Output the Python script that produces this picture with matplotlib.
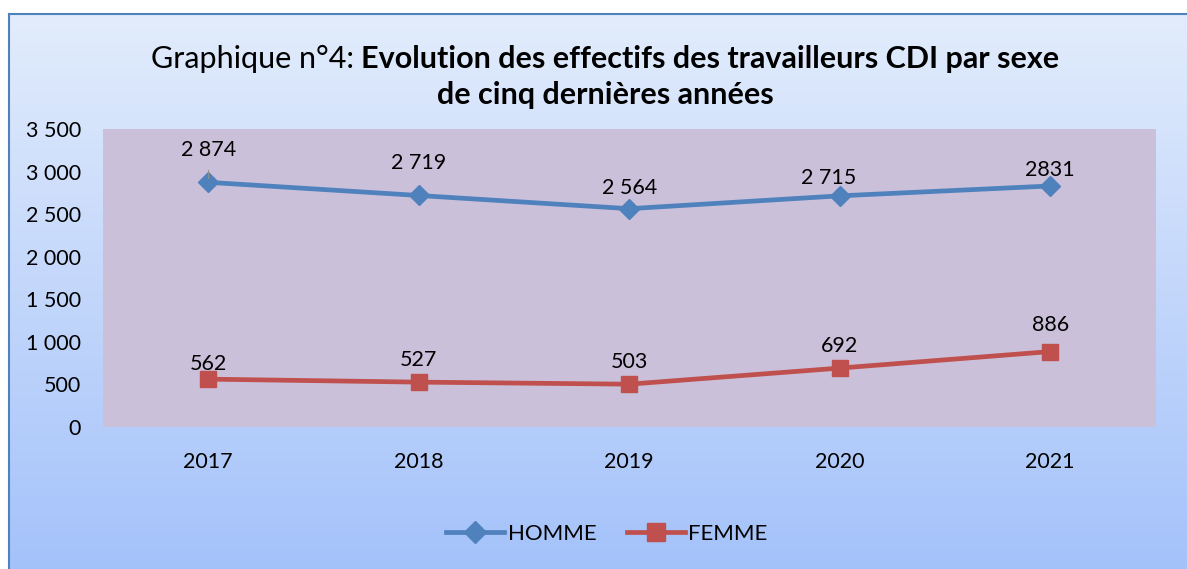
import numpy as np
import matplotlib
matplotlib.use("Agg")
import matplotlib.pyplot as plt
from matplotlib.lines import Line2D

# data
years = ["2017", "2018", "2019", "2020", "2021"]
homme = [2874, 2719, 2564, 2715, 2831]
femme = [562, 527, 503, 692, 886]
homme_labels = ["2 874", "2 719", "2 564", "2 715", "2831"]
femme_labels = ["562", "527", "503", "692", "886"]
yticks = [0, 500, 1000, 1500, 2000, 2500, 3000, 3500]

plt.rcParams["font.family"] = ["Lato", "DejaVu Sans"]

W, H = 1187, 569
fig = plt.figure(figsize=(W / 100, H / 100), dpi=100)
fig.patch.set_facecolor("white")

# gradient chart frame
bg = fig.add_axes([9 / W, 0, 1 - 9 / W, (H - 14) / H])
grad = np.linspace(0, 1, 256).reshape(-1, 1)
top = np.array([226, 236, 252]) / 255
bot = np.array([164, 194, 250]) / 255
img = top + (bot - top) * grad[:, :, None]
img = img.reshape(256, 1, 3)
bg.imshow(img, aspect="auto", extent=[0, 1, 0, 1], origin="upper")
bg.set_xlim(0, 1)
bg.set_ylim(0, 1)
bg.set_xticks([])
bg.set_yticks([])
for s in ["right", "bottom"]:
    bg.spines[s].set_visible(False)
for s in ["top", "left"]:
    bg.spines[s].set_color("#4F81BD")
    bg.spines[s].set_linewidth(1.5)

ax = fig.add_axes([103 / W, (H - 427) / H, 1052.5 / W, 298 / H])
ax.set_facecolor("#CBC0DA")
x = np.arange(len(years))
ax.plot(x, homme, color="#4F81BD", lw=3.4, marker="D", ms=10, solid_capstyle="round")
ax.plot(x, femme, color="#C0504D", lw=3.4, marker="s", ms=12, solid_capstyle="round")
ax.set_xlim(-0.5, len(years) - 0.5)
ax.set_ylim(0, 3500)
ax.set_yticks(yticks)
ax.set_yticklabels([f"{v:,}".replace(",", " ") for v in yticks])
ax.set_xticks(x)
ax.set_xticklabels(years)
ax.tick_params(length=0, labelsize=15.5)
ax.tick_params(axis="y", pad=16)
ax.tick_params(axis="x", pad=18)
for s in ax.spines.values():
    s.set_visible(False)

# data labels
h_off = [(0, 16), (0, 16), (0, 8), (-8, 6), (0, 4)]
for i, (v, lab) in enumerate(zip(homme, homme_labels)):
    ax.annotate(lab, (x[i], v), xytext=h_off[i], textcoords="offset points",
                ha="center", va="bottom", fontsize=15.5)
ax.plot([0, 0], [2920, 3020], color="#909090", lw=0.8)
f_off = [(0, 4), (0, 9), (0, 9), (0, 9), (0, 12)]
for i, (v, lab) in enumerate(zip(femme, femme_labels)):
    ax.annotate(lab, (x[i], v), xytext=f_off[i], textcoords="offset points",
                ha="center", va="bottom", fontsize=15.5)

# title in two styles
t1 = fig.text(0, 1 - 68 / H, "Graphique n°4: ", fontsize=22, va="baseline", ha="left")
t2 = fig.text(0, 1 - 68 / H, "Evolution des effectifs des travailleurs CDI par sexe",
              fontsize=22, va="baseline", ha="left", fontweight="bold")
fig.canvas.draw()
r = fig.canvas.get_renderer()
w1 = t1.get_window_extent(r).width
w2 = t2.get_window_extent(r).width
x0 = 605 - (w1 + w2) / 2
t1.set_x(x0 / W)
t2.set_x((x0 + w1) / W)
fig.text(605 / W, 1 - 104 / H, "de cinq dernières années", fontsize=22,
         va="baseline", ha="center", fontweight="bold")

handles = [
    Line2D([], [], color="#4F81BD", lw=3.4, marker="D", ms=11),
    Line2D([], [], color="#C0504D", lw=3.4, marker="s", ms=13),
]
fig.legend(handles, ["HOMME", "FEMME"], loc="center", bbox_to_anchor=(607 / W, 1 - 534 / H),
           ncol=2, frameon=False, fontsize=16, handlelength=2.6, handletextpad=0.15,
           columnspacing=1.4)

fig.savefig("out.png", dpi=100)
